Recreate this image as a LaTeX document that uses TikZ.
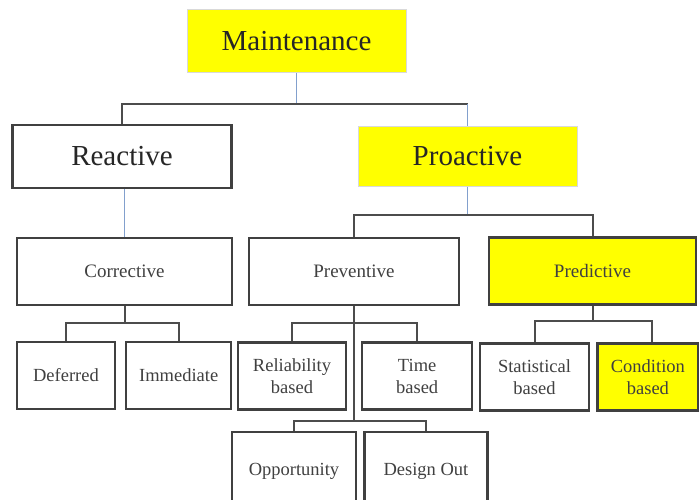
\documentclass[tikz,border=0pt]{standalone}
\usepackage{fontspec}
\setmainfont{Liberation Serif}
\usepackage{tikz}
\usetikzlibrary{positioning}
\definecolor{wireblue}{RGB}{130,160,205}
\definecolor{boxyellow}{RGB}{255,255,0}

\begin{document}
\begin{tikzpicture}[
		x=1pt,
		y=-1pt,
		box node/.style={
			rectangle,
			draw=black!75,
			line width=2.2pt,
			fill=white,
			text=black!75,
			inner sep=0pt,
			align=center,
			minimum height=67pt
		},
		top node/.style={
			box node,
			font=\fontsize{29}{34}\selectfont,
			text=black!85,
			minimum width=219pt,
			minimum height=63pt
		},
		mid node/.style={box node, font=\fontsize{19}{22}\selectfont},
		leaf node/.style={box node, font=\fontsize{18.5}{22}\selectfont},
		hl node/.style={fill=boxyellow, draw=black!15, line width=1pt},
		link/.style={draw=black!70, line width=2pt},
		wire/.style={draw=wireblue, line width=1.2pt}
		]
		\clip (0,0) rectangle (699,499);

		\node[top node, hl node] (maint) at (296.5,41) {Maintenance};
		\node[top node] (reactive) at (122,156.5) {Reactive};
		\node[top node, hl node, minimum height=60pt] (proactive) at (467.5,156) {Proactive};

		\node[mid node, minimum width=215pt] (corrective) at (124.5,271.5) {Corrective};
		\node[mid node, minimum width=210pt] (preventive) at (354,271.5) {Preventive};
		\node[mid node, minimum width=207pt, fill=boxyellow] (predictive) at (592.5,271) {Predictive};

		\node[leaf node, minimum width=98pt] (deferred) at (66,375.5) {Deferred};
		\node[leaf node, minimum width=105pt] (immediate) [right=9pt of deferred] {Immediate};
		\node[leaf node, minimum width=108.5pt] (reliability) at (292,376) {Reliability\\based};
		\node[leaf node, minimum width=110pt] (time) [right=13.7pt of reliability] {Time\\based};
		\node[leaf node, minimum width=109pt] (statistical) at (534.5,377) {Statistical\\based};
		\node[leaf node, minimum width=101pt, fill=boxyellow] (condition) [right=6.2pt of statistical] {Condition\\based};
		\node[leaf node, minimum width=124pt, minimum height=78pt] (opportunity) at (294,471) {Opportunity};
		\node[leaf node, minimum width=123pt, minimum height=78pt] (designout) [right=6.2pt of opportunity] {Design Out};

		\coordinate (mbus) at (296,104);
		\coordinate (pbus) at (469,215);
		\coordinate (cbus) at (124.5,323);
		\coordinate (vbus) at (354,323);
		\coordinate (obus) at (354,421);
		\coordinate (dbus) at (592.5,321);

		\draw[wire] (maint.south) -- (maint.south |- mbus);
		\draw[link] (reactive.north) |- (proactive.north |- mbus);
		\draw[wire] (proactive.north |- mbus) -- (proactive.north);
		\draw[wire] (corrective.north |- reactive.south) -- (corrective.north);
		\draw[wire] (proactive.south) -- (proactive.south |- pbus);
		\draw[link] (preventive.north) |- (pbus) -| (predictive.north);

		\draw[link] (corrective.south) -- (cbus);
		\draw[link] (deferred.north) |- (cbus) -| (immediate.north);
		\draw[link] (preventive.south) -- (obus);
		\draw[link] (reliability.north) |- (vbus) -| (time.north);
		\draw[link] (opportunity.north) |- (obus) -| (designout.north);
		\draw[link] (predictive.south) -- (dbus);
		\draw[link] (statistical.north) |- (dbus) -| ([xshift=4pt]condition.north);
	\end{tikzpicture}
\end{document}
